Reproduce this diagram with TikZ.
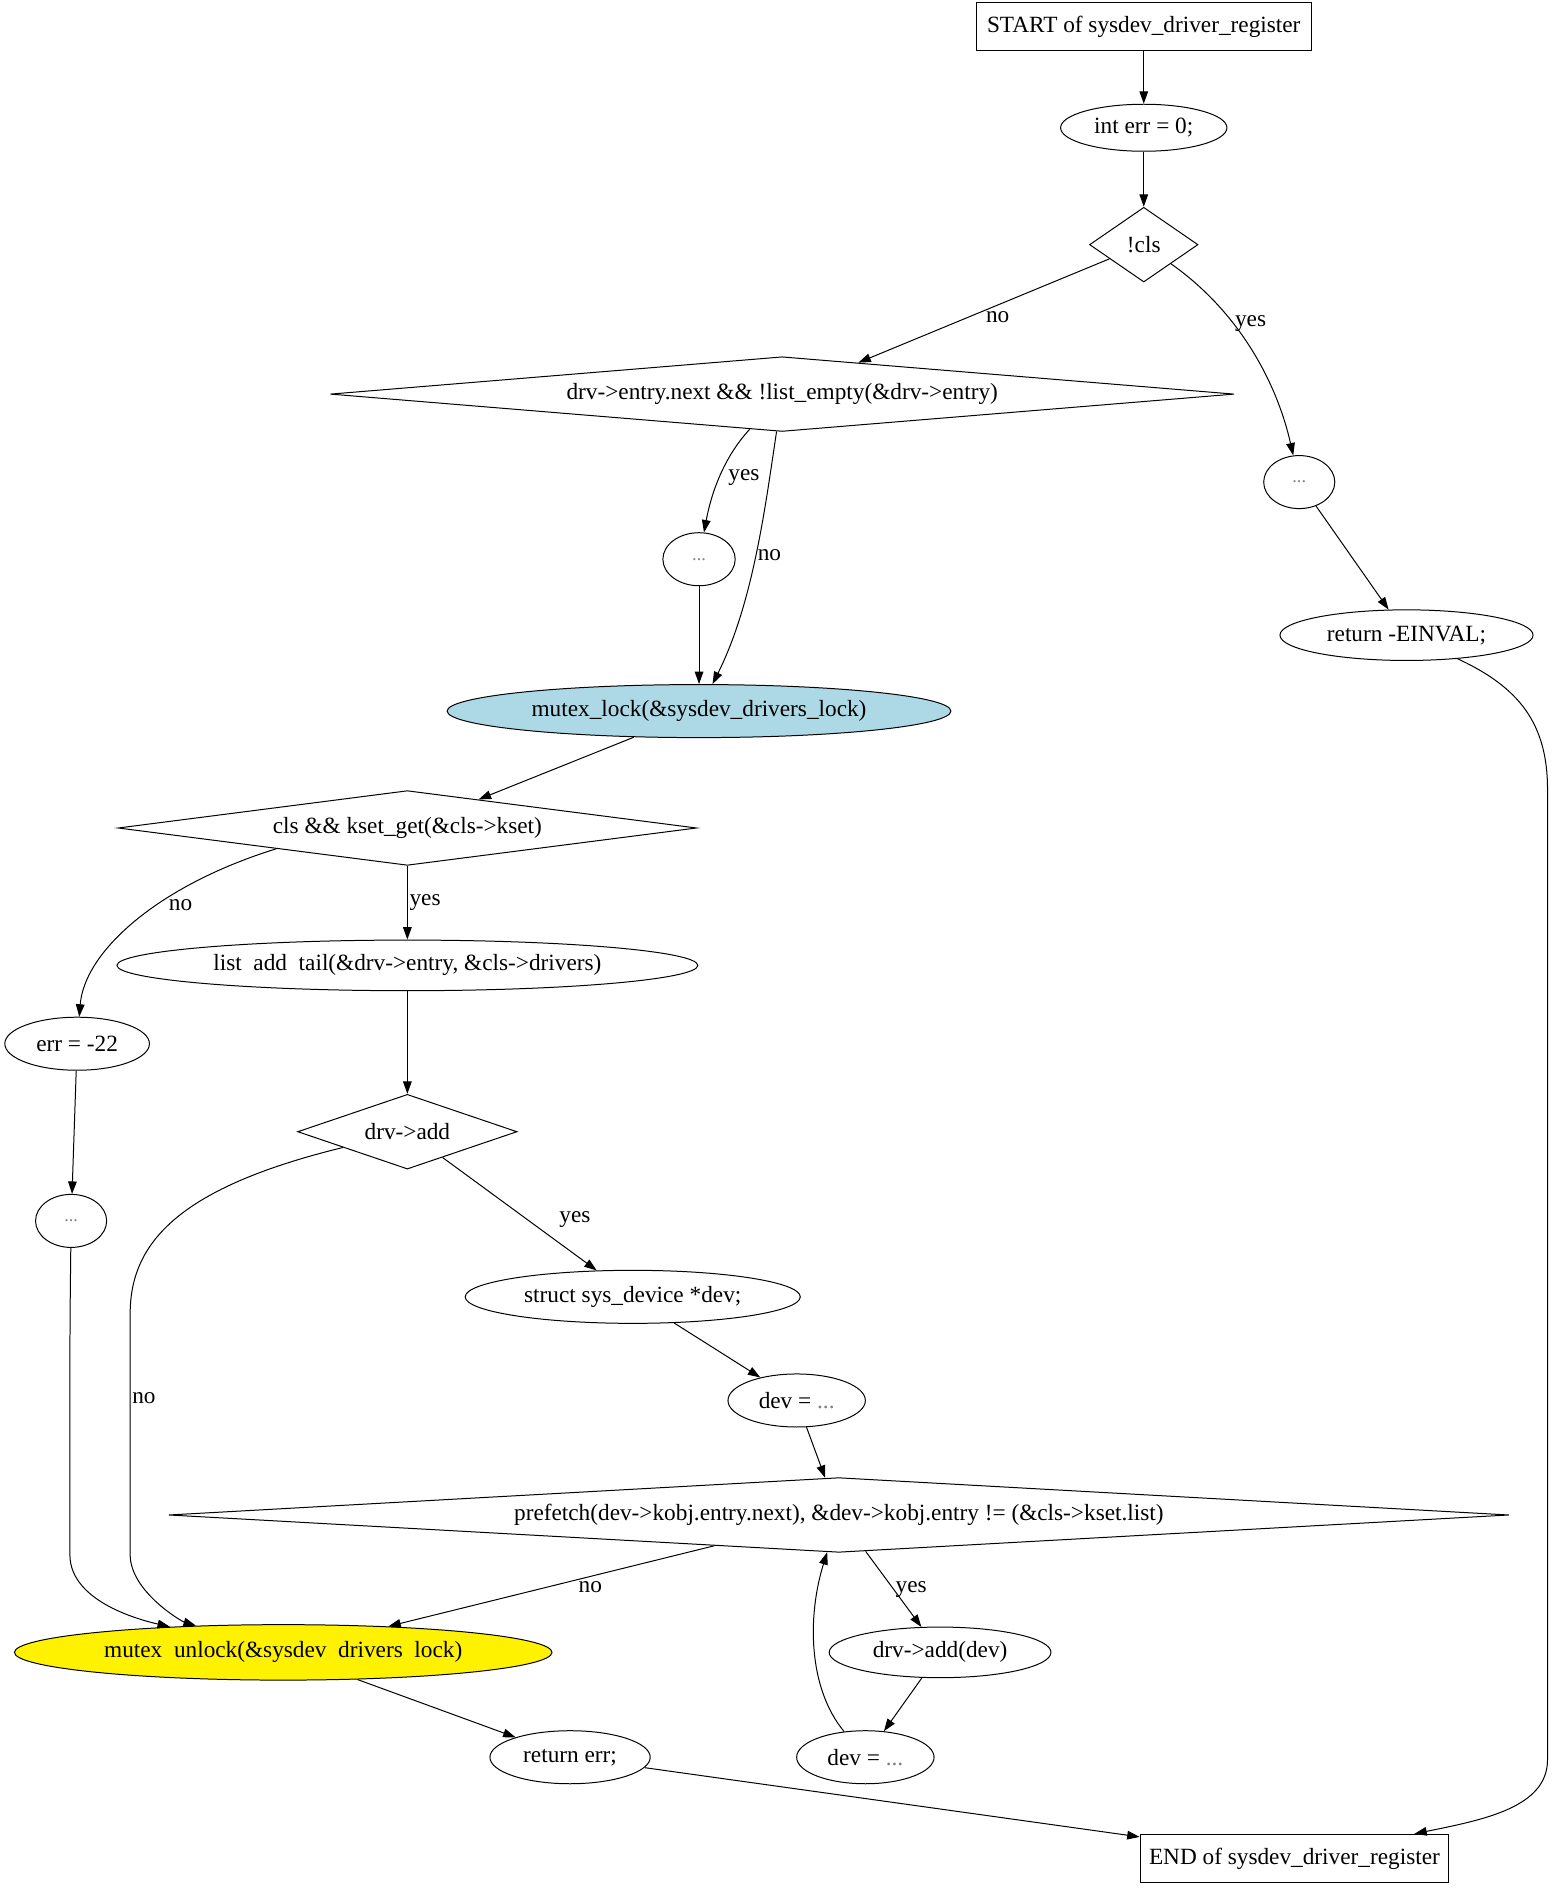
\documentclass[tikz,border=0pt]{standalone}
\usepackage{fontspec}
\setmainfont{Liberation Serif}
\usetikzlibrary{shapes.geometric,arrows.meta}
\definecolor{lightblue}{RGB}{173,216,230}

\begin{document}
\begin{tikzpicture}[x=0.725pt,y=-0.725pt,line width=0.6pt,
	every node/.style={font=\fontsize{14}{16}\selectfont,inner sep=0pt},
	box/.style 2 args={draw,rectangle,minimum width=#1*0.725pt,minimum height=#2*0.725pt},
	ell/.style 2 args={draw,ellipse,minimum width=#1*0.725pt,minimum height=#2*0.725pt},
	test/.style 2 args={draw,diamond,minimum width=#1*0.725pt,minimum height=#2*0.725pt},
	lab/.style={inner sep=1pt},
	arr/.style={-{Triangle[length=7.5pt,width=5.2pt]}}]
\def\gdots{\textcolor{gray}{\fontsize{11}{12}\selectfont...}}

\useasboundingbox (0,0) rectangle (1290,1569);

\node[box={278}{40}] (start) at (949,22) {START of sysdev\_driver\_register};
\node[ell={138}{39}] (errinit) at (949,106) {int err = 0;};
\node[test={90}{62},aspect=1.45] (nocls) at (949,203) {!cls};
\node[test={750}{62},aspect=12] (entry) at (649,327) {drv->entry.next \&\& !list\_empty(\&drv->entry)};
\node[ell={59}{44}] (dotsr) at (1078,400) {\gdots};
\node[ell={60}{44}] (dotsl) at (580,464) {\gdots};
\node[ell={210}{42}] (einval) at (1167,527) {return -EINVAL;};
\node[ell={418}{44},fill=lightblue] (lock) at (580,590) {mutex\_lock(\&sysdev\_drivers\_lock)};
\node[test={480}{62},aspect=7.7] (kset) at (338,687) {cls \&\& kset\_get(\&cls->kset)};
\node[ell={482}{42}] (addtail) at (338,801) {list\phantom{\_}add\phantom{\_}tail(\&drv->entry, \&cls->drivers)};
\node[ell={120}{44}] (errset) at (64,866) {err = -22};
\node[test={182}{62},aspect=2.9] (drvadd) at (338,939) {drv->add};
\node[ell={59}{44}] (dotsa) at (59,1013) {\gdots};
\node[ell={278}{44}] (devdecl) at (525,1076) {struct sys\_device *dev;};
\node[ell={114}{44}] (devfirst) at (661,1162) {dev = \textcolor{gray}{...}};
\node[test={1112}{62},aspect=18] (loop) at (696,1257) {prefetch(dev->kobj.entry.next), \&dev->kobj.entry != (\&cls->kset.list)};
\node[ell={446}{46},fill=yellow] (unlock) at (235,1371) {mutex\phantom{\_}unlock(\&sysdev\phantom{\_}drivers\phantom{\_}lock)};
\node[ell={184}{42}] (addev) at (780,1371) {drv->add(dev)};
\node[ell={133}{44}] (reterr) at (473,1458) {return err;};
\node[ell={114}{44}] (devnext) at (718,1458) {dev = \textcolor{gray}{...}};
\node[box={256}{40}] (finish) at (1074,1542) {END of sysdev\_driver\_register};

\foreach \a/\b in {start/errinit,errinit/nocls,dotsl/lock,dotsr/einval,lock/kset,addtail/drvadd,errset/dotsa,devdecl/devfirst,devfirst/loop,addev/devnext,unlock/reterr,reterr/finish}
	\draw[arr](\a)--(\b);

\draw[arr](nocls)--(entry) node[lab,pos=.5,right,yshift=-4pt]{no};
\draw[arr](nocls) .. controls (1030,260) and (1060,320) .. (dotsr) node[lab,pos=.35,right]{yes};
\draw[arr](entry) .. controls (600,380) and (590,410) .. (dotsl) node[lab,pos=.5,right=4pt]{yes};
\draw[arr](entry) .. controls (635,420) and (625,500) .. (lock) node[lab,pos=.5,right]{no};
\draw[arr](einval) .. controls (1260,570) and (1284,600) .. (1284,655) -- (1284,1460) .. controls (1284,1500) and (1230,1510) .. (finish);
\draw[arr](kset.189) .. controls (130,735) and (70,790) .. (errset) node[lab,pos=.4,right=6pt]{no};
\draw[arr](kset)--(addtail) node[lab,midway,right]{yes};
\draw[arr](drvadd) .. controls (150,985) and (108,1030) .. (108,1090) -- (108,1290) node[lab,pos=.35,right]{no} .. controls (108,1320) and (150,1345) .. (unlock);
\draw[arr](dotsa) .. controls (58,1100) .. (58,1200) -- (58,1290) .. controls (58,1330) and (120,1345) .. (unlock);
\draw[arr](drvadd)--(devdecl) node[lab,pos=.55,right=18pt]{yes};
\draw[arr](loop)--(unlock) node[lab,pos=.38,below=2pt]{no};
\draw[arr](loop)--(addev) node[lab,pos=.5,right]{yes};
\draw[arr](devnext) .. controls (670,1400) and (670,1340) .. (loop);

\end{tikzpicture}
\end{document}
